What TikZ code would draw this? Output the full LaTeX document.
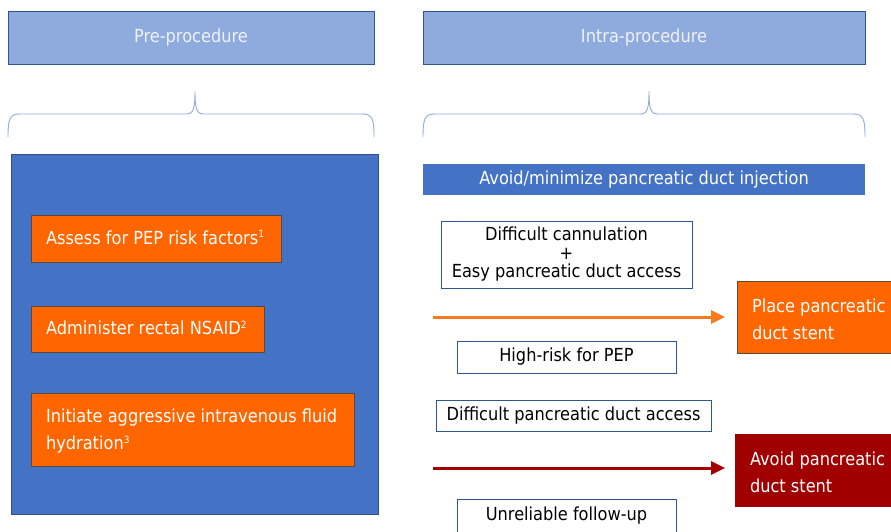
\documentclass[tikz,border=0pt]{standalone}
\usepackage{fontspec}
\setmainfont{DejaVu Sans}[FakeStretch=0.9]
\usetikzlibrary{arrows.meta}
\definecolor{headfill}{HTML}{8FAADC}
\definecolor{headline}{HTML}{2F5597}
\definecolor{bracecol}{HTML}{8FAADC}
\definecolor{panelblue}{HTML}{4472C4}
\definecolor{paneledge}{HTML}{2F528F}
\definecolor{orangefill}{HTML}{FF6600}
\definecolor{orangeedge}{HTML}{5A4A3A}
\definecolor{orangearrow}{HTML}{F97A1F}
\definecolor{redfill}{HTML}{A00000}
\definecolor{redarrow}{HTML}{A50000}
\definecolor{headtext}{HTML}{EEF2FA}
% small raised reference number
\newcommand{\refmark}[1]{\raisebox{6.5pt}{\fontsize{10}{10}\selectfont #1}}
\begin{document}
\begin{tikzpicture}[x=1pt,y=-1pt,
  every node/.style={inner sep=0pt, outer sep=0pt, font=\fontsize{18}{20}\selectfont},
  headbox/.style={draw=headline, line width=1pt, fill=headfill, text=headtext, anchor=north west},
  panel/.style={draw=paneledge, line width=0.8pt, fill=panelblue, anchor=north west},
  actbox/.style={draw=orangeedge, line width=0.8pt, fill=orangefill, anchor=north west},
  boxtext/.style={text=white, anchor=west, align=left, font=\fontsize{18}{27}\selectfont},
  condbox/.style={draw=headline, line width=0.8pt, fill=white, text=black, anchor=north west, align=center},
  bracepath/.style={draw=bracecol, line width=0.9pt},
  flow/.style={line width=3pt, -{Triangle[length=14pt,width=13pt]}}
]
\useasboundingbox (0,0) rectangle (891,531);

% column headers
\node[headbox, minimum width=366pt, minimum height=53pt] (pre) at (8,11) {Pre-procedure};
\node[headbox, minimum width=442pt, minimum height=53pt] (intra) at (423,11) {Intra-procedure};

% braces under the headers
\draw[bracepath] (8,137) .. controls (8,118) and (10,114) .. (20,114) -- (186,114)
  .. controls (193,114) and (195,110) .. (195,91)
  .. controls (195,110) and (197,114) .. (204,114) -- (362,114)
  .. controls (372,114) and (374,118) .. (374,137);
\draw[bracepath] (423,137) .. controls (423,118) and (425,114) .. (435,114) -- (640,114)
  .. controls (647,114) and (649,110) .. (649,91)
  .. controls (649,110) and (651,114) .. (658,114) -- (853,114)
  .. controls (863,114) and (865,118) .. (865,137);

% pre-procedure panel
\node[panel, minimum width=367pt, minimum height=360pt] (panelbg) at (11,154) {};
\node[actbox, minimum width=250pt, minimum height=47pt] (assess) at (31,215) {};
\node[boxtext] (assesstxt) at ([xshift=15pt,yshift=1pt]assess.west) {Assess for PEP risk factors\refmark{1}};
\node[actbox, minimum width=233pt, minimum height=46pt] (nsaid) at (31,306) {};
\node[boxtext] (nsaidtxt) at ([xshift=15pt,yshift=1pt]nsaid.west) {Administer rectal NSAID\refmark{2}};
\node[actbox, minimum width=323pt, minimum height=73pt] (fluid) at (31,393) {};
\node[boxtext] (fluidtxt) at ([xshift=15pt,yshift=-2pt]fluid.west) {Initiate aggressive intravenous fluid\\hydration\refmark{3}};

% intra-procedure column
\node[panel, draw=none, minimum width=442pt, minimum height=31pt, text=white] (inject) at (423,164) {Avoid/minimize pancreatic duct injection};
\node[condbox, minimum width=251pt, minimum height=67pt, font=\fontsize{18}{18.5}\selectfont] (cann) at (441,221) {Difficult cannulation\\+\\Easy pancreatic duct access};
\node[condbox, minimum width=219pt, minimum height=32pt] (highrisk) at (457,341) {High-risk for PEP};
\node[condbox, minimum width=275pt, minimum height=31pt] (diffacc) at (436,400) {Difficult pancreatic duct access};
\node[condbox, minimum width=219pt, minimum height=34pt] (unrel) at (457,499) {Unreliable follow-up};

\node[actbox, minimum width=160pt, minimum height=72pt] (place) at (737,281) {};
\node[boxtext] (placetxt) at ([xshift=15pt,yshift=-2pt]place.west) {Place pancreatic\\duct stent};
\node[actbox, draw=redfill, fill=redfill, minimum width=160pt, minimum height=72pt] (avoid) at (735,434) {};
\node[boxtext] (avoidtxt) at ([xshift=15pt,yshift=-2pt]avoid.west) {Avoid pancreatic\\duct stent};

% decision arrows
\coordinate (s1) at (433,317);
\coordinate (s2) at (433,468);
\draw[flow, orangearrow] (s1) -- (place.west |- s1) [shorten >=12pt];
\draw[flow, redarrow] (s2) -- (avoid.west |- s2) [shorten >=10pt];
\end{tikzpicture}
\end{document}
